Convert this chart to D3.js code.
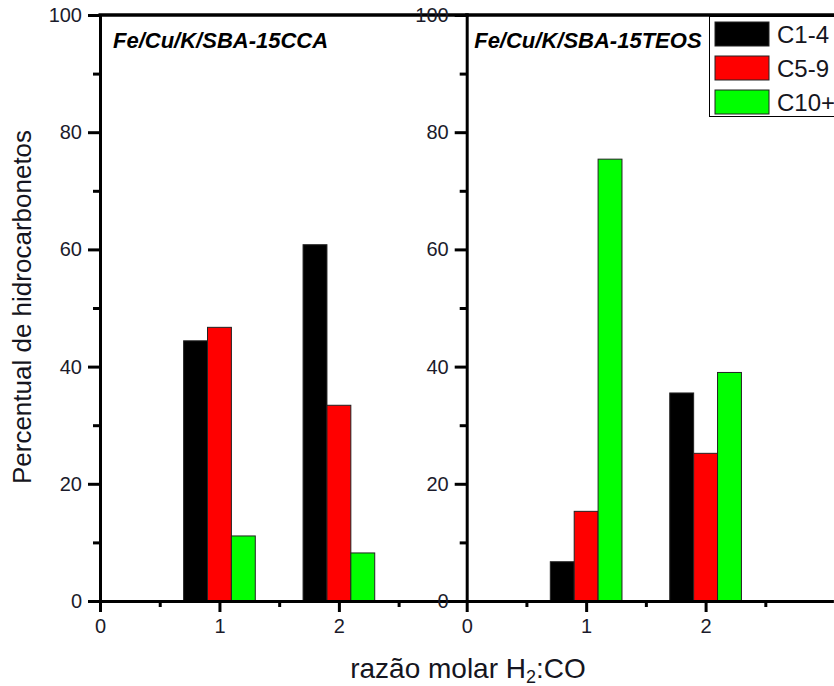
<!DOCTYPE html>
<html>
<head>
<meta charset="utf-8">
<script src="https://cdn.jsdelivr.net/npm/d3@7"></script>
<style>
    body { margin: 0; background: #fff; }
    svg { display: block; font-family: "Liberation Sans", Arial, sans-serif; }
</style>
</head>
<body>
<svg id="chart" width="834" height="686"></svg>
<script>
//数据
const ratios = [1, 2];
const series = ["C1-4", "C5-9", "C10+"];
const colors = ["#000000", "#ff0000", "#00ff00"];
const panelTitles = ["Fe/Cu/K/SBA-15CCA", "Fe/Cu/K/SBA-15TEOS"];

const ccaC1_4 = [44.4, 60.8];
const ccaC5_9 = [46.7, 33.4];
const ccaC10 = [11.1, 8.2];
const teosC1_4 = [6.7, 35.5];
const teosC5_9 = [15.3, 25.2];
const teosC10 = [75.4, 39.0];

const yMajor = [0, 20, 40, 60, 80, 100];
const yMinor = [10, 30, 50, 70, 90];
const xMajor = [0, 1, 2];
const xMinor = [0.5, 1.5, 2.5];

const panels = [
    { title: panelTitles[0], values: [ccaC1_4, ccaC5_9, ccaC10], left: 100 },
    { title: panelTitles[1], values: [teosC1_4, teosC5_9, teosC10], left: 466.7 }
];

const svg = d3.select("#chart");
const plotTop = 15, plotBottom = 601, panelW = 366.7;
const barW = 0.2;

const y = d3.scaleLinear().domain([0, 100]).range([plotBottom, plotTop]);

//面板绘制函数
function panelDraw(container, p) {
    const x = d3.scaleLinear().domain([0, 3.07]).range([p.left, p.left + panelW]);
    const g = container.append("g").attr("class", "panel");

    //柱子
    const rows = [];
    p.values.forEach(function (vals, j) {
        vals.forEach(function (v, i) {
            rows.push({ ratio: ratios[i], s: j, value: v });
        });
    });

    g.append("g")
        .selectAll("rect")
        .data(rows)
        .join("rect")
        .attr("x", d => x(d.ratio + (d.s - 1) * barW - barW / 2))
        .attr("width", d => x(barW) - x(0))
        .attr("y", d => y(d.value))
        .attr("height", d => y(0) - y(d.value))
        .attr("fill", d => colors[d.s])
        .attr("stroke", "#222")
        .attr("stroke-width", 1);

    //y轴
    g.append("g")
        .attr("transform", `translate(${p.left},0)`)
        .call(d3.axisLeft(y).tickValues(yMajor).tickSize(12).tickSizeOuter(0).tickPadding(6)
            .tickFormat(d3.format("d")));
    g.append("g")
        .attr("transform", `translate(${p.left},0)`)
        .call(d3.axisLeft(y).tickValues(yMinor).tickSize(7).tickSizeOuter(0).tickFormat(""))
        .select(".domain").remove();

    //x轴
    g.append("g")
        .attr("transform", `translate(0,${plotBottom})`)
        .call(d3.axisBottom(x).tickValues(xMajor).tickSize(11).tickSizeOuter(0).tickPadding(7)
            .tickFormat(d3.format("d")));
    g.append("g")
        .attr("transform", `translate(0,${plotBottom})`)
        .call(d3.axisBottom(x).tickValues(xMinor).tickSize(6).tickSizeOuter(0).tickFormat(""))
        .select(".domain").remove();

    g.selectAll(".tick line").attr("stroke", "#000").attr("stroke-width", 3);
    g.selectAll(".domain").attr("stroke", "#000").attr("stroke-width", 3);
    g.selectAll(".tick text")
        .attr("font-size", 20)
        .attr("font-family", "Liberation Sans, Arial, sans-serif")
        .attr("fill", "#1b1b2b");

    //上边框
    g.append("line")
        .attr("x1", p.left - 1.5)
        .attr("x2", p.left + panelW + 2)
        .attr("y1", plotTop)
        .attr("y2", plotTop)
        .attr("stroke", "#000")
        .attr("stroke-width", 3.5);

    //标题
    g.append("text")
        .text(p.title)
        .attr("x", p.left + (p.left < 200 ? 13 : 7.5))
        .attr("y", 48)
        .attr("font-size", 22)
        .attr("font-weight", "bold")
        .attr("font-style", "italic")
        .attr("fill", "#000");
}

panels.forEach(p => panelDraw(svg, p));

//图例
const legend = svg.append("g").attr("class", "legend");
legend.append("rect")
    .attr("x", 709.5)
    .attr("y", 16.5)
    .attr("width", 140)
    .attr("height", 100)
    .attr("fill", "#fff")
    .attr("stroke", "#000")
    .attr("stroke-width", 1);

legend.selectAll("rect.sw")
    .data(series)
    .join("rect")
    .attr("class", "sw")
    .attr("x", 715)
    .attr("y", (d, i) => 22 + i * 34)
    .attr("width", 54)
    .attr("height", 24)
    .attr("fill", (d, i) => colors[i])
    .attr("stroke", "#222")
    .attr("stroke-width", 1);

legend.selectAll("text")
    .data(series)
    .join("text")
    .text(d => d)
    .attr("x", 777)
    .attr("y", (d, i) => 43 + i * 34)
    .attr("font-size", 24)
    .attr("fill", "#151520");

//轴标题
svg.append("text")
    .text("Percentual de hidrocarbonetos")
    .attr("transform", "translate(31,307) rotate(-90)")
    .attr("text-anchor", "middle")
    .attr("font-size", 26)
    .attr("fill", "#151520");

const xTitle = svg.append("text")
    .attr("x", 468)
    .attr("y", 678)
    .attr("text-anchor", "middle")
    .attr("font-size", 28)
    .attr("fill", "#151520");
xTitle.append("tspan").text("razão molar H");
xTitle.append("tspan").text("2").attr("font-size", 18).attr("dy", 5);
xTitle.append("tspan").text(":CO").attr("dy", -5);
</script>
</body>
</html>
